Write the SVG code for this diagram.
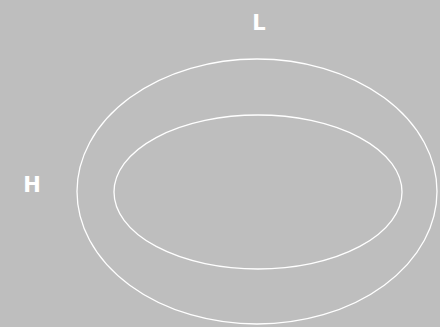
<svg xmlns="http://www.w3.org/2000/svg" width="440" height="327" viewBox="0 0 440 327">
<style>
.ring{fill:none;stroke:#ffffff;stroke-width:1.3}
.lbl{font-family:"DejaVu Sans","Liberation Sans",sans-serif;font-weight:bold;font-size:21px;fill:#ffffff;text-anchor:middle}
</style>
<rect width="440" height="327" fill="#bebebe"/>
<g id="outer"><ellipse class="ring" cx="257" cy="191.5" rx="180" ry="132.5"/></g>
<g id="inner"><ellipse class="ring" cx="258" cy="192" rx="144" ry="77"/></g>
<g id="label-L"><text class="lbl" x="259" y="30">L</text></g>
<g id="label-H"><text class="lbl" x="32" y="192">H</text></g>
</svg>
